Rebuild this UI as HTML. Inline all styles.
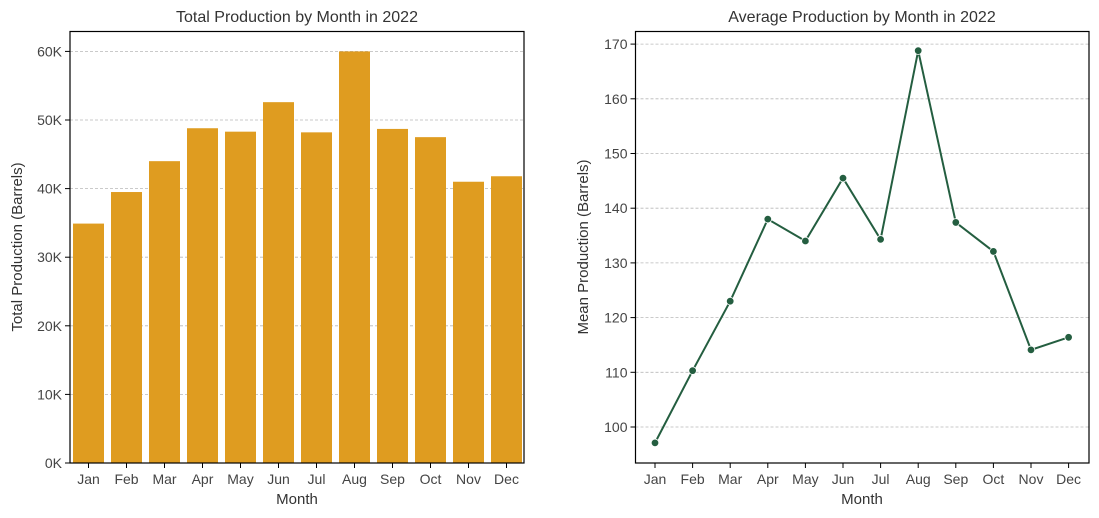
<!DOCTYPE html>
<html><head><meta charset="utf-8"><style>
body{margin:0;background:#fff;}
svg{display:block;font-family:"Liberation Sans",sans-serif;}
</style></head><body>
<svg id="c" width="1099" height="518" viewBox="0 0 1099 518" xmlns="http://www.w3.org/2000/svg"></svg>
<script>
const months=["Jan","Feb","Mar","Apr","May","Jun","Jul","Aug","Sep","Oct","Nov","Dec"];
const totals=[34900,39500,44000,48800,48300,52600,48200,60000,48700,47500,41000,41800];
const means=[97.1,110.3,123.0,138.0,134.0,145.5,134.3,168.8,137.4,132.1,114.1,116.4];
const leftTicks=[0,10000,20000,30000,40000,50000,60000];
const leftTickLabels=["0K","10K","20K","30K","40K","50K","60K"];
const rightTicks=[100,110,120,130,140,150,160,170];
const svg=document.getElementById('c');
const NS="http://www.w3.org/2000/svg";
function mk(t,a,p,name,txt){const e=document.createElementNS(NS,t);for(const k in a)e.setAttribute(k,a[k]);


if(txt!==undefined)e.textContent=txt;(p||svg).appendChild(e);return e;}
// left chart
const L={x0:70,x1:524,y0:31.5,y1:463};
const ly=v=>463-v*68.6/10000;
const lx=i=>88.5+i*38;
leftTicks.forEach((t,i)=>{
 if(t>0)mk('line',{x1:L.x0,x2:L.x1,y1:ly(t),y2:ly(t),stroke:'#b8b8b8','stroke-width':0.8,'stroke-dasharray':'3,2'},null,'left-gridline');
 mk('line',{x1:L.x0-5,x2:L.x0,y1:ly(t),y2:ly(t),stroke:'#000'},null,'left-y-tick');
 mk('text',{x:L.x0-8,y:ly(t)+5,'text-anchor':'end','font-size':14,fill:'#444'},null,'left-y-tick-label',leftTickLabels[i]);
});
totals.forEach((v,i)=>{
 mk('rect',{x:lx(i)-15.5,y:ly(v),width:31,height:463-ly(v),fill:'#df9c20'},null,'bar-'+months[i].toLowerCase());
 mk('line',{x1:lx(i),x2:lx(i),y1:463,y2:468,stroke:'#000'},null,'left-x-tick');
 mk('text',{x:lx(i),y:484,'text-anchor':'middle','font-size':14,fill:'#444'},null,'left-x-tick-label',months[i]);
});
mk('rect',{x:L.x0,y:L.y0,width:L.x1-L.x0,height:L.y1-L.y0,fill:'none',stroke:'#000','stroke-width':1.2},null,'left-axes-frame');
mk('text',{x:297,y:22,'text-anchor':'middle','font-size':16,fill:'#333'},null,'left-chart-title','Total Production by Month in 2022');
mk('text',{x:297,y:504,'text-anchor':'middle','font-size':15,fill:'#333'},null,'left-x-axis-title','Month');
mk('text',{x:22,y:247,'text-anchor':'middle','font-size':15,fill:'#333',transform:'rotate(-90 22 247)'},null,'left-y-axis-title','Total Production (Barrels)');
// right chart
const R={x0:635.5,x1:1089,y0:31.5,y1:463};
const ry=v=>427-(v-100)*5.47;
const rx=i=>655+i*37.6;
rightTicks.forEach(t=>{
 mk('line',{x1:R.x0,x2:R.x1,y1:ry(t),y2:ry(t),stroke:'#b8b8b8','stroke-width':0.8,'stroke-dasharray':'3,2'},null,'right-gridline');
 mk('line',{x1:R.x0-5,x2:R.x0,y1:ry(t),y2:ry(t),stroke:'#000'},null,'right-y-tick');
 mk('text',{x:R.x0-8,y:ry(t)+5,'text-anchor':'end','font-size':14,fill:'#444'},null,'right-y-tick-label',String(t));
});
mk('polyline',{points:means.map((v,i)=>rx(i)+','+ry(v)).join(' '),fill:'none',stroke:'#245e40','stroke-width':2},null,'mean-line');
means.forEach((v,i)=>{
 mk('circle',{cx:rx(i),cy:ry(v),r:3.8,fill:'#245e40',stroke:'#fff','stroke-width':0.8},null,'point-'+months[i].toLowerCase());
 mk('line',{x1:rx(i),x2:rx(i),y1:463,y2:468,stroke:'#000'},null,'right-x-tick');
 mk('text',{x:rx(i),y:484,'text-anchor':'middle','font-size':14,fill:'#444'},null,'right-x-tick-label',months[i]);
});
mk('rect',{x:R.x0,y:R.y0,width:R.x1-R.x0,height:R.y1-R.y0,fill:'none',stroke:'#000','stroke-width':1.2},null,'right-axes-frame');
mk('text',{x:862,y:22,'text-anchor':'middle','font-size':16,fill:'#333'},null,'right-chart-title','Average Production by Month in 2022');
mk('text',{x:862,y:504,'text-anchor':'middle','font-size':15,fill:'#333'},null,'right-x-axis-title','Month');
mk('text',{x:588,y:247,'text-anchor':'middle','font-size':15,fill:'#333',transform:'rotate(-90 588 247)'},null,'right-y-axis-title','Mean Production (Barrels)');
</script>
</body></html>
